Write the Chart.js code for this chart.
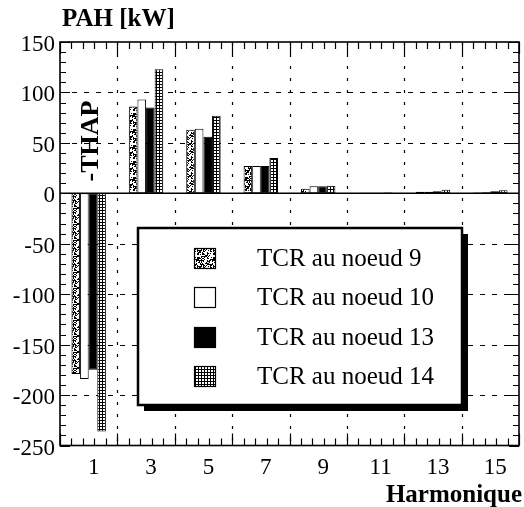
<!DOCTYPE html>
<html><head><meta charset="utf-8">
<script src="https://cdn.jsdelivr.net/npm/chart.js@4"></script>
<style>html,body{margin:0;padding:0;background:#fff;}</style>
</head><body>
<canvas id="c" width="524" height="507" style="width:524px;height:507px;display:block"></canvas>
<script>
const harmonics = ['1','3','5','7','9','11','13','15'];
const node9  = [-179, 86, 63, 27, 4.5, 0.5, 1.5, 0.8];
const node10 = [-184, 93, 64, 27, 7.0, 0.5, 1.5, 1.0];
const node13 = [-175, 85, 56, 27, 7.0, 0.5, 2.0, 2.0];
const node14 = [-236, 123, 77, 35, 7.5, 0.8, 3.5, 3.0];
const seriesLabels = ['TCR au noeud 9','TCR au noeud 10','TCR au noeud 13','TCR au noeud 14'];
const yMin = -250, yMax = 150, yStep = 50, yMinorStep = 10;
const yTitle = 'PAH [kW]', xTitle = 'Harmonique', sideNote = '-THAP';

const SERIF = '"Liberation Serif"';

function makeStipple() {
  const size = 16;
  const c = document.createElement('canvas'); c.width = c.height = size;
  const g = c.getContext('2d');
  g.fillStyle = '#fff'; g.fillRect(0,0,size,size);
  g.fillStyle = '#000';
  for (let yy = 0; yy < size; yy++) for (let xx = 0; xx < size; xx++) {
    const h = ((xx * 73856093) ^ (yy * 19349663) ^ (xx * yy * 83492791)) >>> 0;
    if ((h % 100) < 42) g.fillRect(xx, yy, 1, 1);
  }
  return g.createPattern(c, 'repeat');
}
function makeGrid() {
  const c = document.createElement('canvas'); c.width = c.height = 3;
  const g = c.getContext('2d');
  g.fillStyle = '#fff'; g.fillRect(0,0,3,3);
  g.fillStyle = '#000'; g.fillRect(0,0,3,1); g.fillRect(0,0,1,3);
  return g.createPattern(c, 'repeat');
}

const decor = {
  id: 'decor',
  beforeDatasetsDraw(chart) {
    const {ctx, chartArea: a, scales: {y}} = chart;
    ctx.save();
    ctx.strokeStyle = '#000';
    ctx.lineWidth = 1.2;
    ctx.setLineDash([5, 7]);
    for (let v = yMin + yStep; v < yMax; v += yStep) {
      if (v === 0) continue;
      const py = Math.round(y.getPixelForValue(v)) + 0.5;
      ctx.beginPath(); ctx.moveTo(a.left, py); ctx.lineTo(a.right, py); ctx.stroke();
    }
    const bw = (a.right - a.left) / harmonics.length;
    ctx.setLineDash([3, 9]);
    for (let k = 1; k < harmonics.length; k++) {
      const px = Math.round(a.left + k * bw) + 0.5;
      ctx.beginPath(); ctx.moveTo(px, a.top); ctx.lineTo(px, a.bottom); ctx.stroke();
    }
    ctx.restore();
  },
  afterDatasetsDraw(chart) {
    const {ctx, chartArea: a, scales: {y}} = chart;
    ctx.save();
    ctx.strokeStyle = '#000';
    ctx.setLineDash([]);
    ctx.lineWidth = 1.5;
    const p0 = y.getPixelForValue(0);
    ctx.beginPath(); ctx.moveTo(a.left, p0); ctx.lineTo(a.right, p0); ctx.stroke();
    ctx.lineWidth = 1.2;
    for (let v = yMin; v <= yMax; v += yMinorStep) {
      const py = Math.round(y.getPixelForValue(v)) + 0.5;
      const len = (v % yStep === 0) ? 10 : 6;
      ctx.beginPath();
      ctx.moveTo(a.left, py); ctx.lineTo(a.left + len, py);
      ctx.moveTo(a.right, py); ctx.lineTo(a.right - len, py);
      ctx.stroke();
    }
    const bw = (a.right - a.left) / harmonics.length;
    const n = harmonics.length * 5;
    for (let k = 0; k <= n; k++) {
      const px = Math.round(a.left + k * bw / 5) + 0.5;
      const len = (k % 5 === 0) ? 12 : 7;
      ctx.beginPath();
      ctx.moveTo(px, a.bottom); ctx.lineTo(px, a.bottom - len);
      ctx.moveTo(px, a.top); ctx.lineTo(px, a.top + len);
      ctx.stroke();
    }
    ctx.lineWidth = 1.6;
    ctx.strokeRect(a.left, a.top, a.right - a.left, a.bottom - a.top);

    const L = 138, T = 228, R = 462, B = 405, S = 6;
    ctx.fillStyle = '#000';
    ctx.fillRect(L + S, T + S, R - L, B - T);
    ctx.fillStyle = '#fff';
    ctx.fillRect(L, T, R - L, B - T);
    ctx.lineWidth = 2.5;
    ctx.strokeRect(L, T, R - L, B - T);
    const rows = [258, 297, 337, 376];
    ctx.font = '25px ' + SERIF;
    ctx.textBaseline = 'middle';
    ctx.textAlign = 'left';
    chart.data.datasets.forEach((ds, i) => {
      const ry = rows[i];
      ctx.fillStyle = ds.backgroundColor;
      ctx.fillRect(194, ry - 10, 22, 21);
      ctx.lineWidth = 1.2;
      ctx.strokeStyle = '#000';
      ctx.strokeRect(194.5, ry - 9.5, 21, 20);
      ctx.fillStyle = '#000';
      ctx.fillText(ds.label, 257, ry + 1);
    });

    ctx.fillStyle = '#000';
    ctx.font = 'bold 25px ' + SERIF;
    ctx.textBaseline = 'alphabetic';
    ctx.textAlign = 'left';
    ctx.fillText(yTitle, 62, 26);
    ctx.font = 'bold 25px ' + SERIF;
    ctx.textAlign = 'right';
    ctx.fillText(xTitle, 522, 502);
    ctx.save();
    ctx.translate(91, 141);
    ctx.rotate(-Math.PI / 2);
    ctx.font = 'bold 26px ' + SERIF;
    ctx.textAlign = 'center';
    ctx.textBaseline = 'middle';
    ctx.fillText(sideNote, 0, 0);
    ctx.restore();
    ctx.restore();
  }
};

function build() {
  const fills = [makeStipple(), '#ffffff', '#000000', makeGrid()];
  const seriesData = [node9, node10, node13, node14];
  new Chart(document.getElementById('c'), {
    type: 'bar',
    data: {
      labels: harmonics,
      datasets: seriesData.map((d, i) => ({
        label: seriesLabels[i],
        data: d,
        backgroundColor: fills[i],
        borderColor: '#000',
        borderWidth: 1,
        borderSkipped: false,
        categoryPercentage: 0.6,
        barPercentage: 1.0
      }))
    },
    options: {
      responsive: false,
      animation: false,
      devicePixelRatio: 1,
      layout: { padding: { top: 42, right: 5, left: 0, bottom: 0 } },
      plugins: { legend: { display: false }, tooltip: { enabled: false }, title: { display: false } },
      scales: {
        x: {
          type: 'category',
          grid: { display: false, drawTicks: false },
          border: { display: false },
          ticks: { color: '#000', font: { family: SERIF, size: 23 }, padding: 9, labelOffset: 5, maxRotation: 0, autoSkip: false },
          afterFit(s) { s.height = 61.5; }
        },
        y: {
          min: yMin, max: yMax,
          grid: { display: false, drawTicks: false },
          border: { display: false },
          ticks: { stepSize: yStep, color: '#000', font: { family: SERIF, size: 23 }, padding: 5, labelOffset: 3 },
          afterFit(s) { s.width = 60; }
        }
      }
    },
    plugins: [decor]
  });
}

const loads = [
  document.fonts.load('25px "Liberation Serif"'),
  document.fonts.load('23px "Liberation Serif"'),
  document.fonts.load('bold 25px "Liberation Serif"')
];
Promise.all(loads).then(build, build);
</script>
</body></html>
